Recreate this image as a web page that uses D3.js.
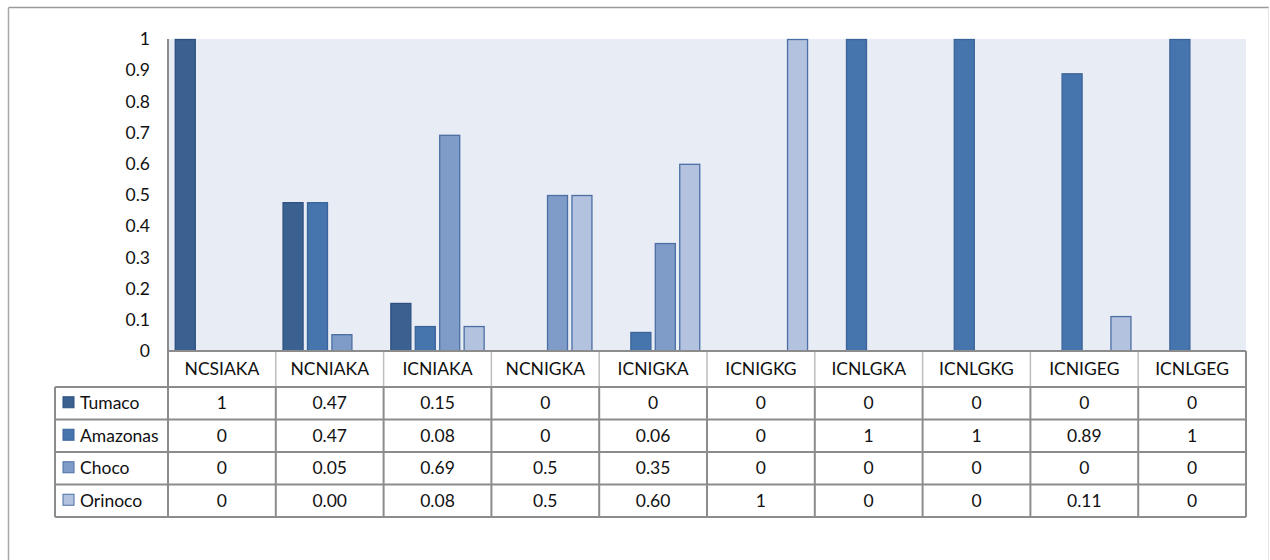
<!DOCTYPE html>
<html>
<head>
<meta charset="utf-8">
<script src="https://cdn.jsdelivr.net/npm/d3@7"></script>
<style>
  html, body { margin: 0; padding: 0; background: #fff; }
  svg { display: block; font-family: Lato, "Liberation Sans", sans-serif; }
</style>
</head>
<body>
<svg id="chart" width="1270" height="560"></svg>
<script>
// ---- data ----
const categories = ["NCSIAKA", "NCNIAKA", "ICNIAKA", "NCNIGKA", "ICNIGKA", "ICNIGKG", "ICNLGKA", "ICNLGKG", "ICNIGEG", "ICNLGEG"];
const seriesNames = ["Tumaco", "Amazonas", "Choco", "Orinoco"];
// bar values
const tumacoValues   = [1, 0.477, 0.154, 0, 0, 0, 0, 0, 0, 0];
const amazonasValues = [0, 0.477, 0.08, 0, 0.061, 0, 1, 1, 0.89, 1];
const chocoValues    = [0, 0.054, 0.693, 0.5, 0.346, 0, 0, 0, 0, 0];
const orinocoValues  = [0, 0, 0.08, 0.5, 0.6, 1, 0, 0, 0.112, 0];
// data table text as shown
const tumacoLabels   = ["1", "0.47", "0.15", "0", "0", "0", "0", "0", "0", "0"];
const amazonasLabels = ["0", "0.47", "0.08", "0", "0.06", "0", "1", "1", "0.89", "1"];
const chocoLabels    = ["0", "0.05", "0.69", "0.5", "0.35", "0", "0", "0", "0", "0"];
const orinocoLabels  = ["0", "0.00", "0.08", "0.5", "0.60", "1", "0", "0", "0.11", "0"];
const yTicks = [0, 0.1, 0.2, 0.3, 0.4, 0.5, 0.6, 0.7, 0.8, 0.9, 1];

const seriesValues = [tumacoValues, amazonasValues, chocoValues, orinocoValues];
const seriesLabels = [tumacoLabels, amazonasLabels, chocoLabels, orinocoLabels];
const fills   = ["#3a6190", "#4675ae", "#7f9bc8", "#b3c2de"];
const strokes = ["#2d5080", "#3a6399", "#4b6fa4", "#4b6fa4"];

// ---- layout ----
const svg = d3.select("#chart");
const plotL = 168, plotR = 1246, plotT = 39, plotB = 351;
const legendL = 55;
const headerB = 387;
const rowH = 32.5;
const fontSize = 17.5;

// outer frame
svg.append("line").attr("x1", 8.5).attr("x2", 1269).attr("y1", 7.5).attr("y2", 7.5).attr("stroke", "#9a9a9a").attr("stroke-width", 1.5);
svg.append("line").attr("x1", 8.5).attr("x2", 8.5).attr("y1", 7.5).attr("y2", 560).attr("stroke", "#a8a8a8").attr("stroke-width", 1.5);
svg.append("line").attr("x1", 1268.5).attr("x2", 1268.5).attr("y1", 7.5).attr("y2", 560).attr("stroke", "#e4e4e4").attr("stroke-width", 1);

const x0 = d3.scaleBand().domain(categories).range([plotL, plotR]).padding(0);
const groupPad = 6.75;
const x1 = d3.scaleBand().domain(seriesNames)
  .range([groupPad, x0.bandwidth() - groupPad]).paddingInner(0.14).paddingOuter(0);
const y = d3.scaleLinear().domain([0, 1]).range([plotB, plotT]);

// plot background
svg.append("rect").attr("x", plotL).attr("y", plotT).attr("width", plotR - plotL).attr("height", plotB - plotT).attr("fill", "#e8edf5");

// bars
const barData = [];
categories.forEach((c, i) => {
  seriesNames.forEach((s, j) => {
    const v = seriesValues[j][i];
    if (v > 0) barData.push({ c, s, v, j });
  });
});
svg.append("g").selectAll("rect").data(barData).join("rect")
  .attr("x", d => x0(d.c) + x1(d.s) + 0.5)
  .attr("y", d => y(d.v) + 0.5)
  .attr("width", x1.bandwidth() - 1)
  .attr("height", d => y(0) - y(d.v) - 0.5)
  .attr("fill", d => fills[d.j])
  .attr("stroke", d => strokes[d.j])
  .attr("stroke-width", 1.3);

// y axis
const yAxis = d3.axisLeft(y).tickValues(yTicks).tickSize(0).tickPadding(18).tickFormat(d => d3.format("")(Math.round(d * 10) / 10));
const gy = svg.append("g").attr("transform", `translate(${plotL},0)`).call(yAxis);
gy.select(".domain").remove();
gy.selectAll("text").attr("font-size", fontSize).attr("fill", "#111").attr("font-family", "Lato, sans-serif");
svg.append("line").attr("x1", plotL).attr("x2", plotL).attr("y1", plotT).attr("y2", plotB).attr("stroke", "#8c8c8c").attr("stroke-width", 2);

// ---- data table ----
const tableColor = "#8c8c8c";
const tableB = headerB + rowH * seriesNames.length;
const t = svg.append("g");

// header row category labels
t.selectAll("text.cat").data(categories).join("text")
  .attr("class", "cat")
  .attr("x", d => x0(d) + x0.bandwidth() / 2)
  .attr("y", (plotB + headerB) / 2)
  .attr("dy", "0.35em")
  .attr("text-anchor", "middle")
  .attr("font-size", fontSize).attr("fill", "#111")
  .text(d => d);

// header verticals (lighter)
t.selectAll("line.hv").data(categories.slice(1)).join("line")
  .attr("class", "hv")
  .attr("x1", d => x0(d)).attr("x2", d => x0(d))
  .attr("y1", plotB).attr("y2", headerB)
  .attr("stroke", "#bdbdbd").attr("stroke-width", 1.5);

// data rows
seriesNames.forEach((s, j) => {
  const rowT = headerB + j * rowH;
  const cy = rowT + rowH / 2;
  t.append("rect").attr("x", legendL + 8).attr("y", cy - 6.5).attr("width", 11).attr("height", 11)
    .attr("fill", fills[j]).attr("stroke", strokes[j]).attr("stroke-width", 1);
  t.append("text").attr("x", legendL + 25).attr("y", cy).attr("dy", "0.35em")
    .attr("font-size", fontSize).attr("fill", "#111").text(s);
  t.selectAll(`text.v${j}`).data(seriesLabels[j]).join("text")
    .attr("class", `v${j}`)
    .attr("x", (d, i) => x0(categories[i]) + x0.bandwidth() / 2)
    .attr("y", cy).attr("dy", "0.35em")
    .attr("text-anchor", "middle")
    .attr("font-size", fontSize).attr("fill", "#111")
    .text(d => d);
});

// horizontal table lines
const hLines = [headerB];
for (let j = 1; j <= seriesNames.length; j++) hLines.push(headerB + j * rowH);
t.selectAll("line.h").data(hLines).join("line")
  .attr("class", "h")
  .attr("x1", legendL).attr("x2", plotR)
  .attr("y1", d => d).attr("y2", d => d)
  .attr("stroke", tableColor).attr("stroke-width", 2);
// top of header row (axis baseline)
t.append("line").attr("x1", plotL).attr("x2", plotR).attr("y1", plotB).attr("y2", plotB)
  .attr("stroke", tableColor).attr("stroke-width", 2);

// vertical lines through data rows
const vX = [legendL, plotL].concat(categories.slice(1).map(c => x0(c))).concat([plotR]);
t.selectAll("line.v").data(vX).join("line")
  .attr("class", "v")
  .attr("x1", d => d).attr("x2", d => d)
  .attr("y1", headerB).attr("y2", tableB)
  .attr("stroke", tableColor).attr("stroke-width", 2);
// left and right edges of header row
[plotL, plotR].forEach(xv => {
  t.append("line").attr("x1", xv).attr("x2", xv).attr("y1", plotB).attr("y2", headerB)
    .attr("stroke", tableColor).attr("stroke-width", 2);
});
</script>
</body>
</html>
